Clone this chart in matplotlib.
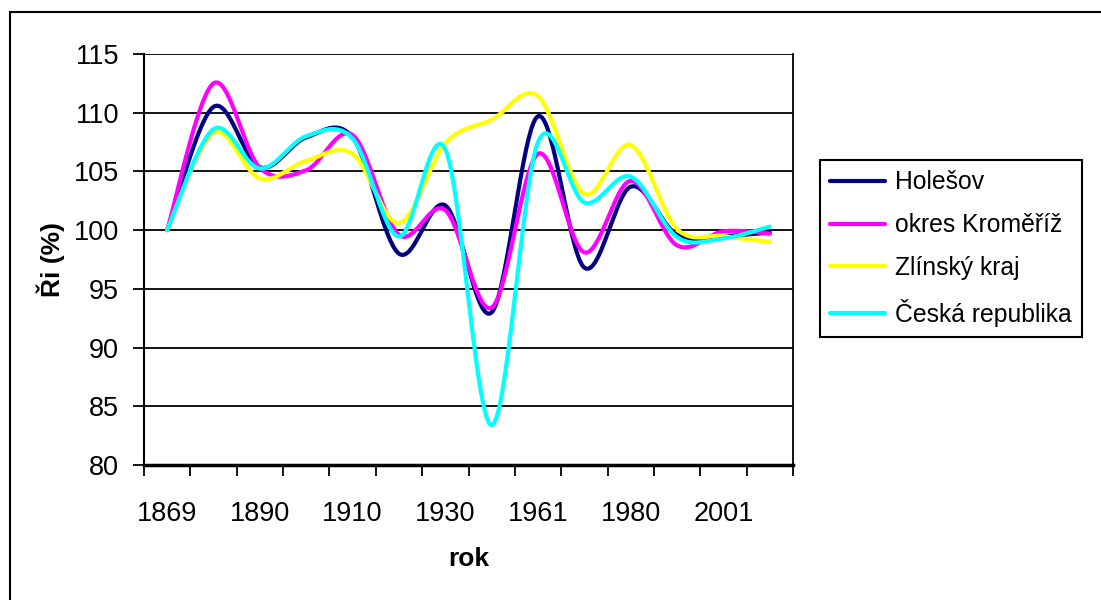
import numpy as np
import matplotlib
matplotlib.use("Agg")
import matplotlib.pyplot as plt
from matplotlib.patches import Rectangle
from matplotlib.ticker import FixedLocator

plt.rcParams['font.family'] = ['Liberation Sans', 'DejaVu Sans']

years = ['1869', '1880', '1890', '1900', '1910', '1921', '1930',
         '1950', '1961', '1970', '1980', '1991', '2001', '2011']
holesov = [100, 110.5, 105.35, 107.9, 107.9, 98.0, 102.1, 93.0, 109.7, 96.8, 103.7, 99.6, 99.5, 99.8]
kromeriz = [100, 112.5, 105.3, 105.1, 108.1, 99.6, 101.7, 93.4, 106.5, 98.1, 104.2, 98.7, 99.9, 99.7]
zlin = [100, 108.3, 104.4, 105.9, 106.5, 100.6, 107.4, 109.4, 111.4, 103.1, 107.25, 100.1, 99.5, 99.0]
cr = [100, 108.6, 105.25, 108.0, 107.8, 99.45, 106.9, 83.4, 107.5, 102.35, 104.55, 99.4, 99.3, 100.3]

series = [("Holešov", holesov, "#000080"),
          ("okres Kroměříž", kromeriz, "#FF00FF"),
          ("Zlínský kraj", zlin, "#FFFF00"),
          ("Česká republika", cr, "#00FFFF")]


def smooth(xs, ys, n=40):
    P = np.column_stack([xs, ys]).astype(float)
    out = []
    for i in range(len(P) - 1):
        p0 = P[i - 1] if i > 0 else P[i]
        p1 = P[i]
        p2 = P[i + 1]
        p3 = P[i + 2] if i + 2 < len(P) else P[i + 1]
        c1 = p1 + (p2 - p0) / 6.0
        c2 = p2 - (p3 - p1) / 6.0
        t = np.linspace(0, 1, n)[:, None]
        seg = ((1 - t) ** 3) * p1 + 3 * ((1 - t) ** 2) * t * c1 + 3 * (1 - t) * t ** 2 * c2 + t ** 3 * p2
        out.append(seg if i == 0 else seg[1:])
    return np.vstack(out)


W, H = 1101, 600
fig = plt.figure(figsize=(W / 100, H / 100), dpi=100)
ax = fig.add_axes([144 / W, 1 - 465 / H, (793 - 144) / W, (465 - 54) / H])

x = np.arange(len(years))
for name, vals, col in series:
    s = smooth(x, vals)
    ax.plot(s[:, 0], s[:, 1], color=col, lw=3.0, label=name, solid_capstyle='round')

ax.set_xlim(-0.5, len(years) - 0.5)
ax.set_ylim(80, 115)
ax.set_yticks(np.arange(80, 116, 5))
ax.yaxis.grid(True, color='black', lw=1.3)
ax.set_axisbelow(True)

ax.set_xticks(x[::2])
ax.set_xticklabels(years[::2])
ax.xaxis.set_minor_locator(FixedLocator(np.arange(-0.5, len(years), 1.0)))
ax.tick_params(axis='x', which='major', length=0, pad=26, labelsize=19.5)
ax.tick_params(axis='x', which='minor', length=8, width=1.3, direction='out')
ax.tick_params(axis='y', length=8, width=1.3, direction='out', pad=10, labelsize=19.5)

for side in ['left', 'bottom', 'right']:
    ax.spines[side].set_color('black')
ax.spines['left'].set_linewidth(1.5)
ax.spines['bottom'].set_linewidth(2.5)
ax.spines['right'].set_linewidth(1.3)
ax.spines['top'].set_visible(False)

ax.set_xlabel('rok', fontsize=19, fontweight='bold', labelpad=14)
ax.set_ylabel('Ři (%)', fontsize=19, fontweight='bold', labelpad=6)

leg = ax.legend(loc='upper left', bbox_to_anchor=(820 / W, 1 - 160 / H),
                bbox_transform=fig.transFigure, fontsize=17.8, frameon=True,
                fancybox=False, edgecolor='black', framealpha=1,
                handlelength=2.2, handletextpad=0.4, labelspacing=0.76,
                borderpad=0.42, borderaxespad=0)
leg.get_frame().set_linewidth(1.5)

fig.patches.append(Rectangle((10 / W, -0.1), 1.2, 1 - 12 / H + 0.1,
                             transform=fig.transFigure, fill=False,
                             edgecolor='black', lw=1.5, figure=fig))

fig.savefig('out.png', dpi=100)
